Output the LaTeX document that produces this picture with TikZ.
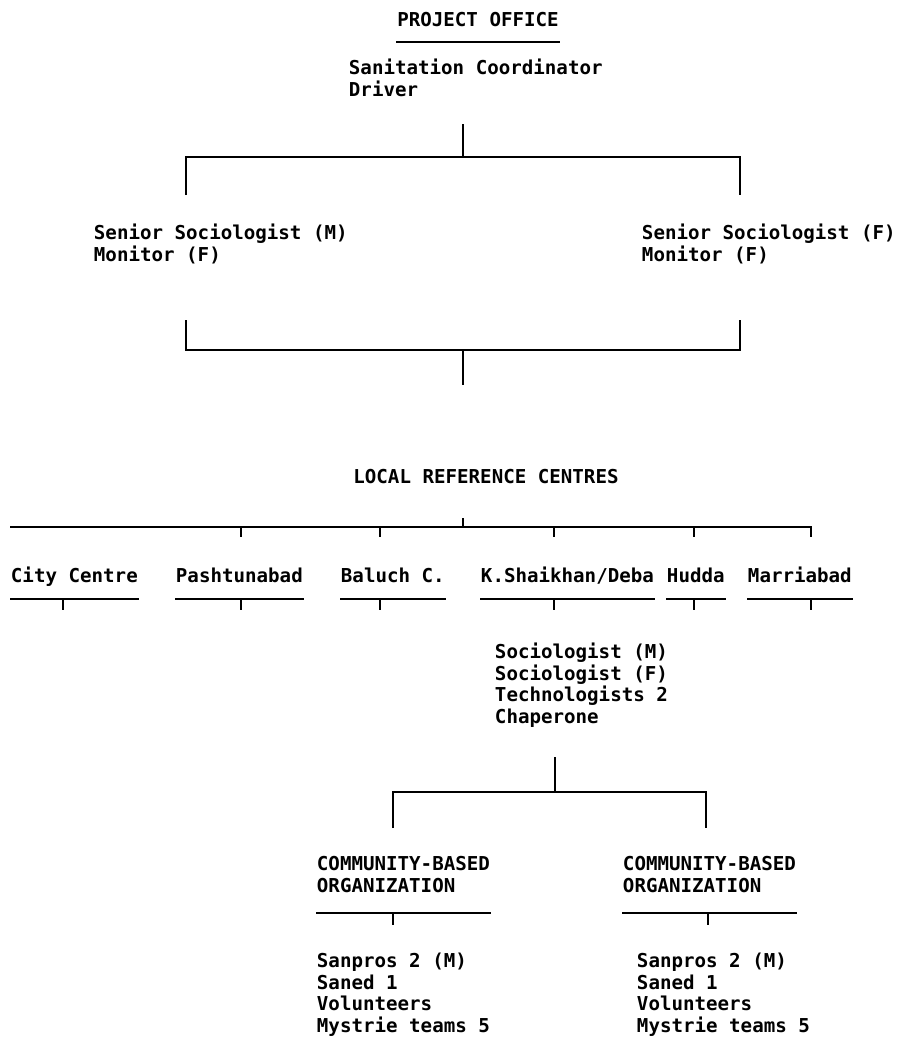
\documentclass[tikz,border=0pt]{standalone}
\usepackage{fontspec}
\setmainfont{DejaVu Sans Mono}
\usetikzlibrary{calc}
\begin{document}
\begin{tikzpicture}[x=0.02cm,y=-0.02cm,line width=1.1pt,
  txt/.style={anchor=base west,inner sep=0pt,align=left,font=\fontsize{10.9}{12.2}\selectfont\bfseries},
  head/.style={txt,anchor=base}]
\useasboundingbox (0,0) rectangle (902,1048);
% project office
\node[head] (po) at (478,27) {PROJECT OFFICE};
\draw ($(po.base west)+(0,15)$) -- ($(po.base east)+(0,15)$);
\node[txt] (staff) at (348,96) {Sanitation Coordinator\\Driver};
\coordinate (top) at (463,124);
\coordinate (fork1) at (463,157);
\coordinate (legm) at (186,195);
\coordinate (legf) at (740,195);
\draw (top) -- (fork1);
\draw (legm) |- (fork1) -| (legf);
% senior sociologists
\node[txt] (ssm) at (93,261) {Senior Sociologist (M)\\Monitor (F)};
\node[txt] (ssf) at (641,261) {Senior Sociologist (F)\\Monitor (F)};
\coordinate (upm) at (186,320);
\coordinate (upf) at (740,320);
\coordinate (join1) at (463,350);
\coordinate (down1) at (463,385);
\draw (upm) |- (join1) -| (upf);
\draw (join1) -- (down1);
% local reference centres
\node[head] (lrc) at (486,483) {LOCAL REFERENCE CENTRES};
\coordinate (rail l) at (10,527);
\coordinate (rail r) at (811,527);
\draw (rail l) -- (rail r) -- ++(0,10);
\draw (463,518) -- (463,527);
\foreach \k in {241,380,554,694}
  \draw (\k,527) -- ++(0,10);
\foreach \n/\x/\t/\k in {cc/10/{City Centre}/63, pa/175/{Pashtunabad}/241,
    bc/340/{Baluch C.}/380, ks/480/{K.Shaikhan/Deba}/554,
    hu/666/{Hudda}/694, ma/747/{Marriabad}/811}{
  \node[txt] (\n) at (\x,582) {\t};
  \draw ($(\n.base west)+(0,17)$) -- ($(\n.base east)+(0,17)$);
  \draw (\k,599) -- ++(0,11);
}
% centre staff
\node[txt] (team) at (494,723) {Sociologist (M)\\Sociologist (F)\\Technologists 2\\Chaperone};
\coordinate (top2) at (555,757);
\coordinate (fork2) at (555,792);
\coordinate (legl) at (393,828);
\coordinate (legr) at (706,828);
\draw (top2) -- (fork2);
\draw (legl) |- (fork2) -| (legr);
% community-based organizations
\node[txt] (cbl) at (316,892) {COMMUNITY-BASED\\ORGANIZATION};
\node[txt] (cbr) at (622,892) {COMMUNITY-BASED\\ORGANIZATION};
\draw ($(cbl.base west)+(0,21)$) -- ($(cbl.base east)+(0,21)$);
\draw ($(cbr.base west)+(0,21)$) -- ($(cbr.base east)+(0,21)$);
\draw (393,913) -- ++(0,12);
\draw (708,913) -- ++(0,12);
\node[txt] (crewl) at (316,1032) {Sanpros 2 (M)\\Saned 1\\Volunteers\\Mystrie teams 5};
\node[txt] (crewr) at (636,1032) {Sanpros 2 (M)\\Saned 1\\Volunteers\\Mystrie teams 5};
\end{tikzpicture}
\end{document}
